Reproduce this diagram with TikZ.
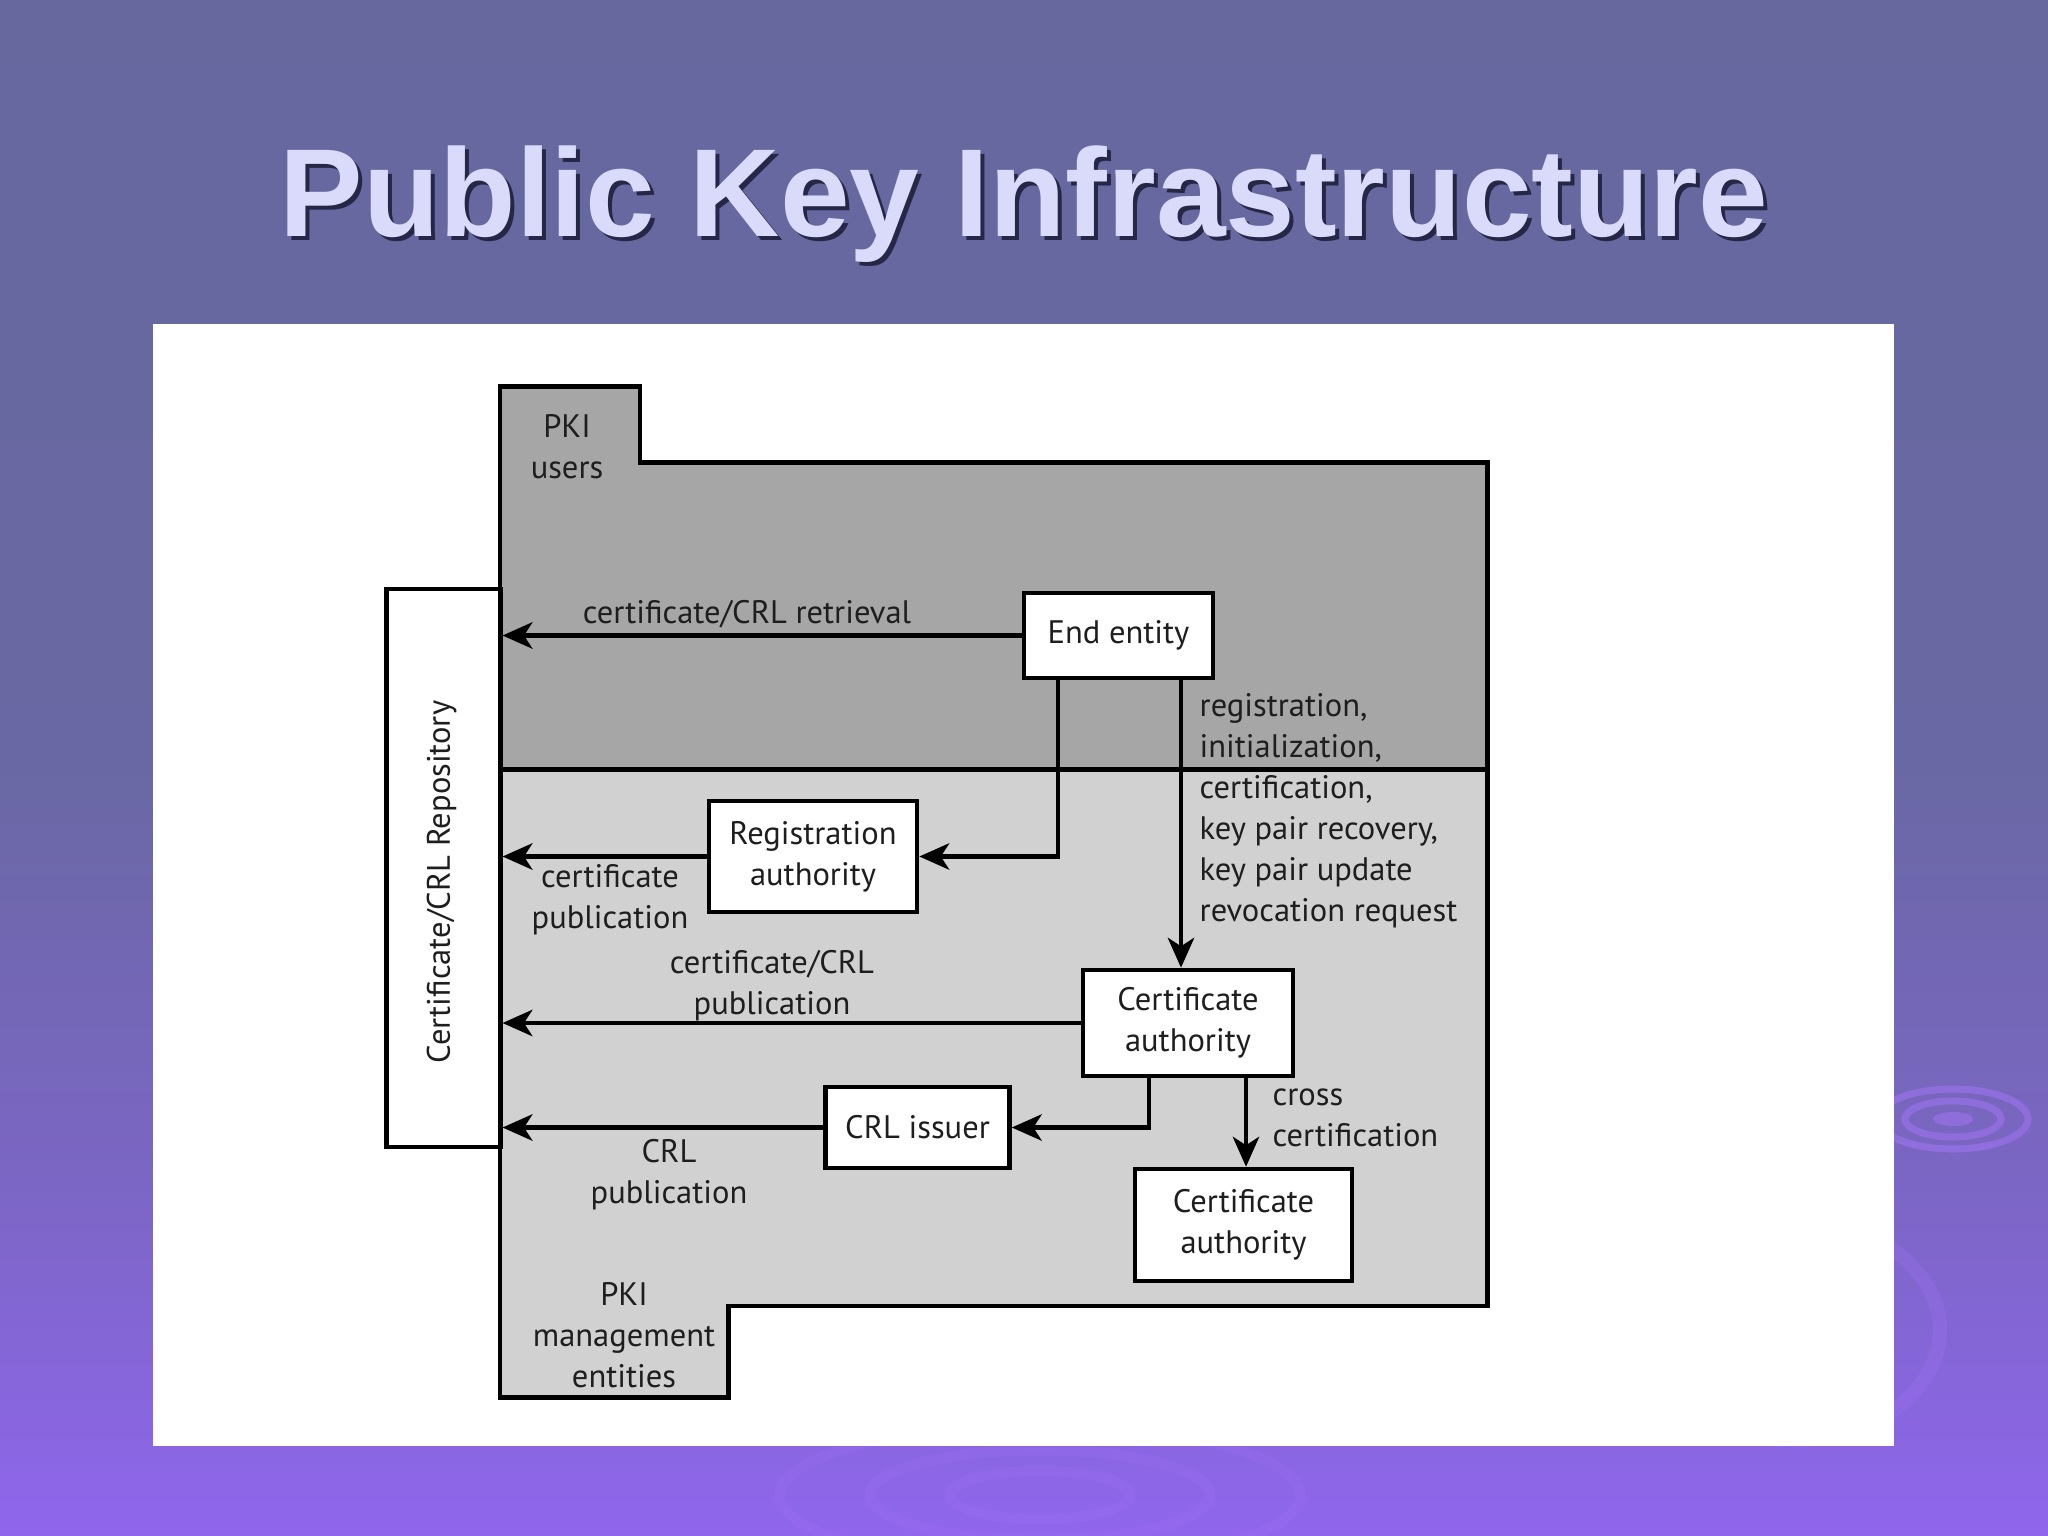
\documentclass[tikz,border=0pt]{standalone}
\usepackage{fontspec}
\setmainfont{PT Sans}
\newfontfamily\titlefont{Liberation Sans}
\usetikzlibrary{arrows.meta}
\definecolor{bgtop}{RGB}{99,104,152}
\definecolor{bgb4}{RGB}{106,104,164}
\definecolor{bgb3}{RGB}{124,102,198}
\definecolor{bgb2}{RGB}{145,102,240}
\definecolor{bgbot}{RGB}{156,102,255}
\definecolor{dgray}{RGB}{166,166,166}
\definecolor{lgray}{RGB}{209,209,209}
\definecolor{titlec}{RGB}{218,218,250}
\definecolor{shadowc}{RGB}{38,38,70}
\definecolor{ripc}{RGB}{170,120,255}
\definecolor{inkc}{RGB}{30,30,30}
\pgfdeclareverticalshading{bgshade}{100bp}{color(0bp)=(bgbot); color(10bp)=(bgbot); color(24bp)=(bgb2); color(36bp)=(bgb3); color(50bp)=(bgb4); color(100bp)=(bgtop)}
\newcommand\dfont{\fontsize{9.25pt}{11.67pt}\selectfont}
\begin{document}
\begin{tikzpicture}[x=0.01cm,y=-0.01cm,
  box/.style={draw=black, line width=1.3pt, fill=white, inner sep=0pt, align=center, font=\dfont, text=inkc},
  lbl/.style={font=\dfont, align=center, inner sep=0pt, text=inkc},
  lbll/.style={font=\dfont, align=left, inner sep=0pt, anchor=west, text=inkc},
  arr/.style={line width=1.2pt, -{Stealth[length=8.5pt,width=7.5pt,inset=2.4pt]}},
  outline/.style={draw=black, line width=1.35pt, line join=miter},
  ripple/.style={draw=ripc, line width=2pt, opacity=0.45},
  ttl/.style={font=\titlefont\bfseries\fontsize{35.6pt}{40pt}\selectfont, inner sep=0pt, anchor=base}]
\useasboundingbox (0,0) rectangle (2048,1536);
\shade[shading=bgshade] (0,0) rectangle (2048,1536);
% decorative ripples
\draw[ripple] (1953,1119) ellipse (75 and 30);
\draw[ripple] (1953,1119) ellipse (48 and 18);
\fill[ripc, opacity=0.45] (1953,1119) ellipse (20 and 7);
\draw[ripple, opacity=0.22, line width=4pt] (1790,1330) ellipse (150 and 110);
\draw[ripple, opacity=0.15, line width=3pt] (1040,1495) ellipse (260 and 70);
\draw[ripple, opacity=0.15, line width=3pt] (1040,1495) ellipse (170 and 45);
\draw[ripple, opacity=0.15, line width=3pt] (1040,1495) ellipse (90 and 24);
% title
\node[ttl, text=shadowc] at (1028,240) {Public Key Infrastructure};
\node[ttl, text=titlec] (title) at (1024,236) {Public Key Infrastructure};
% white panel
\fill[white] (153,324) rectangle (1894,1446);
% regions
\fill[dgray] (500,386.6) -- (640,386.6) -- (640,462.4) -- (1487.7,462.4) -- (1487.7,769.3) -- (500,769.3) -- cycle;
\fill[lgray] (500,769.3) -- (1487.7,769.3) -- (1487.7,1306) -- (728.8,1306) -- (728.8,1397.5) -- (500,1397.5) -- cycle;
\draw[outline] (500,386.6) -- (640,386.6) -- (640,462.4) -- (1487.7,462.4) -- (1487.7,1306) -- (728.8,1306) -- (728.8,1397.5) -- (500,1397.5) -- cycle;
\draw[outline] (500,769.3) -- (1487.7,769.3);
% boxes
\node[box, minimum width=1.136cm, minimum height=5.58cm] (repo) at (443.4,868) {};
\node[font=\dfont, rotate=90, inner sep=0pt, text=inkc] (repotxt) at (441.5,882) {Certificate/CRL Repository};
\node[box, minimum width=1.89cm, minimum height=0.85cm] (ee) at (1118.5,635.5) {End entity};
\node[box, minimum width=2.08cm, minimum height=1.11cm] (ra) at (813,856.5) {Registration\\authority};
\node[box, minimum width=2.10cm, minimum height=1.06cm] (ca1) at (1188,1023) {Certificate\\authority};
\node[box, minimum width=1.84cm, minimum height=0.81cm] (crl) at (917.5,1127.5) {CRL issuer};
\node[box, minimum width=2.17cm, minimum height=1.12cm] (ca2) at (1243.5,1225) {Certificate\\authority};
% x positions of vertical connectors
\coordinate (xa) at (1058,0);
\coordinate (xb) at (1181,0);
\coordinate (xc) at (1149,0);
\coordinate (xd) at (1246,0);
% connectors
\draw[arr] (ee.west) -- (ee.west -| repo.east);
\draw[arr] (ee.south -| xa) |- (ra.east);
\draw[arr] (ra.west) -- (ra.west -| repo.east);
\draw[arr] (ee.south -| xb) -- (ca1.north -| xb);
\draw[arr] (ca1.west) -- (ca1.west -| repo.east);
\draw[arr] (ca1.south -| xc) |- (crl.east);
\draw[arr] (crl.west) -- (crl.west -| repo.east);
\draw[arr] (ca1.south -| xd) -- (ca2.north -| xd);
% labels
\node[lbl] (l1) at (747,614) {certificate/CRL retrieval};
\node[lbl] (l2) at (610,900) {certificate\\publication};
\node[lbll] (l3) at (1199,811) {registration,\\initialization,\\certification,\\key pair recovery,\\key pair update\\revocation request};
\node[lbl] (l4) at (772,985.5) {certificate/CRL\\publication};
\node[lbl] (l5) at (669,1175) {CRL\\publication};
\node[lbll] (l6) at (1272,1117.5) {cross\\certification};
\node[lbl] (l7) at (567,447) {PKI\\users};
\node[lbl] (l8) at (624,1335.5) {PKI\\management\\entities};
\end{tikzpicture}
\end{document}
